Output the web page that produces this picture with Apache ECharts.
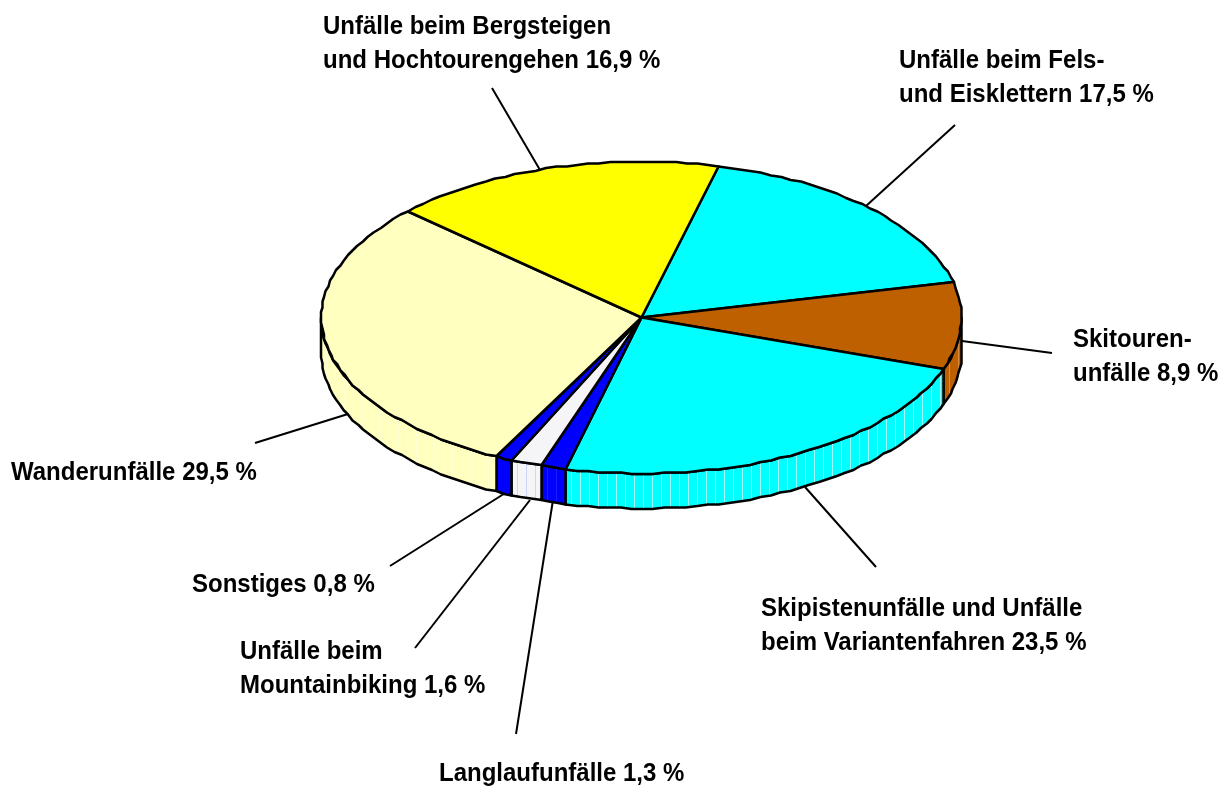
<!DOCTYPE html>
<html><head><meta charset="utf-8">
<style>html,body{margin:0;padding:0;background:#fff}#c{width:1230px;height:789px}</style>
<script src="https://cdn.jsdelivr.net/npm/echarts@6/dist/echarts.min.js"></script>
</head><body><div id="c"></div>
<script>
// Data, clockwise from the yellow/cyan boundary
const categories = [
  'Unfälle beim Fels-\nund Eisklettern',
  'Skitouren-\nunfälle',
  'Skipistenunfälle und Unfälle\nbeim Variantenfahren',
  'Langlaufunfälle',
  'Unfälle beim\nMountainbiking',
  'Sonstiges',
  'Wanderunfälle',
  'Unfälle beim Bergsteigen\nund Hochtourengehen'
];
const values = [17.5, 8.9, 23.5, 1.3, 1.6, 0.8, 29.5, 16.9];
const colors = ['#00ffff', '#bf6000', '#00ffff', '#0000ff', '#f5f5f8', '#0000ff', '#ffffc0', '#ffff00'];
const streaks = ['#00ffff', '#d88c40', '#a0ffff', '#1c1cff', '#d0d4f6', '#0000ff', '#ffffd4', '#ffff00'];

// Layout only
const CX = 641.5, CY = 317.5, RX = 320, RY = 156, DEPTH = 35, START = 76, Q = 1.5;
const labelPos = [[899,78],[1073,357],[761,626],[439,774],[240,669],[192,585],[11,473],[323,44]];
const leaderEnd = [[955,125],[1052,353],[876,567],[516,734],[415,648],[390,566],[255,443],[492,88]];
const leaderStart = [[866,206],[962,341],[805,487],[553,500],[530,500],[510,490],[348,414],[540,170]];

const total = values.reduce((a, b) => a + b, 0);
const bounds = [];
let acc = START;
values.forEach(v => { const a0 = acc; acc -= v / total * 360; bounds.push([a0, acc]); });
const q = v => Math.round(v / Q) * Q;
const pt = (deg, dy) => {
  const r = deg * Math.PI / 180;
  return [q(CX + RX * Math.cos(r)), q(CY - RY * Math.sin(r)) + (dy || 0)];
};
function arc(a0, a1, dy) {
  const n = Math.max(1, Math.ceil(Math.abs(a0 - a1) / 2));
  const out = [];
  for (let i = 0; i <= n; i++) out.push(pt(a0 + (a1 - a0) * i / n, dy));
  return out;
}
const ids = values.map((_, i) => i);
const edge = { stroke: '#000', lineWidth: 2.5, lineJoin: 'round' };

function renderWall(p, api) {
  const i = api.value(0);
  const [a0, a1] = bounds[i];
  const hi = Math.min(a0, 0), lo = Math.max(a1, -180);
  if (hi <= lo) return { type: 'group', children: [] };
  const top = arc(hi, lo, 0), bot = arc(lo, hi, DEPTH);
  const points = top.concat(bot);
  const children = [{ type: 'polygon', shape: { points }, style: { fill: colors[i] } }];
  const xs = top.map(t => t[0]);
  const x0 = Math.min(...xs), x1 = Math.max(...xs);
  for (let x = x0 + 5; x < x1 - 2; x += 9) {
    const r = Math.acos(Math.max(-1, Math.min(1, (x - CX) / RX)));
    const y = CY + RY * Math.sin(r);
    children.push({
      type: 'line',
      shape: { x1: Math.round(x) + 0.5, y1: y, x2: Math.round(x) + 0.5, y2: y + DEPTH },
      style: { stroke: streaks[i], lineWidth: 1 }
    });
  }
  children.push({ type: 'polygon', shape: { points }, style: Object.assign({ fill: 'none' }, edge) });
  return { type: 'group', children };
}
function renderTop(p, api) {
  const i = api.value(0);
  const [a0, a1] = bounds[i];
  return {
    type: 'polygon',
    shape: { points: [[CX, CY]].concat(arc(a0, a1, 0)) },
    style: Object.assign({ fill: colors[i] }, edge)
  };
}
function renderLeader(p, api) {
  const i = api.value(0);
  return {
    type: 'line',
    shape: { x1: leaderStart[i][0], y1: leaderStart[i][1], x2: leaderEnd[i][0], y2: leaderEnd[i][1] },
    style: { stroke: '#000', lineWidth: 2 }
  };
}
function renderLabel(p, api) {
  const i = api.value(0);
  const text = categories[i] + ' ' + values[i].toFixed(1).replace('.', ',') + ' %';
  return {
    type: 'text', x: labelPos[i][0], y: labelPos[i][1], scaleX: 0.96,
    style: { text, fill: '#000', font: 'bold 25px "Liberation Sans", Arial, sans-serif',
             lineHeight: 34, align: 'left', verticalAlign: 'middle' }
  };
}
const mk = (renderItem, z) => ({
  type: 'custom', coordinateSystem: 'none', data: ids.map(i => [i]), renderItem, z, silent: true,
  animation: false, clip: false
});
const chart = echarts.init(document.getElementById('c'), null, { renderer: 'canvas' });
chart.setOption({
  animation: false,
  backgroundColor: '#fff',
  series: [mk(renderLeader, 1), mk(renderWall, 2), mk(renderTop, 3), mk(renderLabel, 4)]
});
</script></body></html>
